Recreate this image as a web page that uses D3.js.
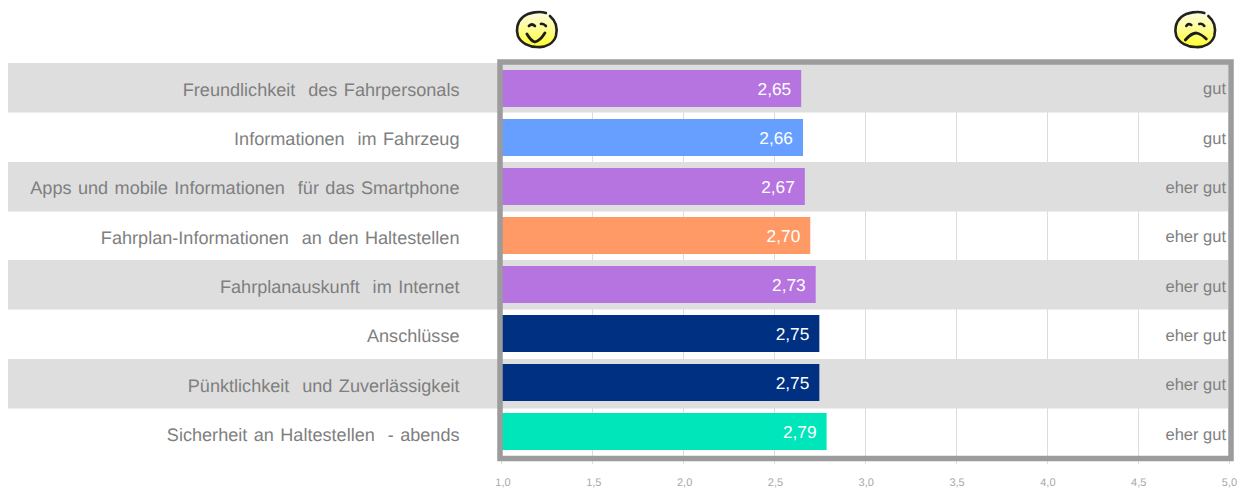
<!DOCTYPE html>
<html><head><meta charset="utf-8">
<script src="https://cdn.jsdelivr.net/npm/d3@7/dist/d3.min.js"></script>
<style>html,body{margin:0;padding:0;background:#fff}svg{display:block}text{font-family:"Liberation Sans",Arial,sans-serif;white-space:pre;text-rendering:geometricPrecision}</style>
</head><body><svg id="c" width="1247" height="489"></svg>
<script>
const categories=["Freundlichkeit  des Fahrpersonals","Informationen  im Fahrzeug","Apps und mobile Informationen  für das Smartphone","Fahrplan-Informationen  an den Haltestellen","Fahrplanauskunft  im Internet","Anschlüsse","Pünktlichkeit  und Zuverlässigkeit","Sicherheit an Haltestellen  - abends"];
const values=[2.65,2.66,2.67,2.70,2.73,2.75,2.75,2.79];
const verdicts=["gut","gut","eher gut","eher gut","eher gut","eher gut","eher gut","eher gut"];
const barColors=["#b574e0","#669fff","#b574e0","#ff9966","#b574e0","#003082","#003082","#00e6bb"];
const ticks=[1,1.5,2,2.5,3,3.5,4,4.5,5];
const fmt=d3.format(".1f"), comma=s=>s.replace(".",",");
const svg=d3.select("#c");
const x=d3.scaleLinear().domain([1,5]).range([501.5,1228]);
const xGrid=d3.scaleLinear().domain([1,5]).range([501.5,1229.5]);
const yRow=d3.scaleBand().domain(d3.range(categories.length)).range([63,457.7]);
const yBar=d3.scaleBand().domain(d3.range(categories.length)).range([64,456]);
const grey="#9c9c9c";
const gx=d=>Math.floor(xGrid(d))+.5;

svg.append("g").selectAll("line").data(ticks).join("line")
 .attr("x1",gx).attr("x2",gx).attr("y1",64).attr("y2",464)
 .attr("stroke","#dcdcdc").attr("stroke-width",1);

svg.append("g").selectAll("rect").data(d3.range(categories.length).filter(i=>i%2===0)).join("rect")
 .attr("x",8).attr("width",1220).attr("y",i=>Math.round(yRow(i))).attr("height",49.5).attr("fill","#dedede");

svg.append("g").selectAll("rect").data(values).join("rect")
 .attr("x",x(1)).attr("width",d=>x(d)-x(1)).attr("y",(d,i)=>yBar(i)+6).attr("height",37)
 .attr("fill",(d,i)=>barColors[i]);

svg.append("rect").attr("x",500).attr("y",62).attr("width",731).attr("height",396.5)
 .attr("fill","none").attr("stroke",grey).attr("stroke-width",5.5);

const txt=svg.append("g").attr("opacity",0.999);
txt.append("g").selectAll("text").data(categories).join("text")
 .attr("x",459.5).attr("y",(d,i)=>yRow(i)+yRow.bandwidth()/2+8).attr("text-anchor","end")
 .attr("font-size",18.1).attr("word-spacing",1.4).attr("fill","#7f7f7f").text(d=>d);

txt.append("g").selectAll("text").data(values).join("text")
 .attr("x",d=>x(d)-10).attr("y",(d,i)=>yBar(i)+yBar.bandwidth()/2+6.5).attr("text-anchor","end")
 .attr("font-size",17.3).attr("fill","#fff").text(d=>d3.format(".2f")(d).replace(".",","));

txt.append("g").selectAll("text").data(verdicts).join("text")
 .attr("x",1226).attr("y",(d,i)=>yRow(i)+yRow.bandwidth()/2+6.5).attr("text-anchor","end")
 .attr("font-size",16.5).attr("fill","#808080").text(d=>d);

txt.append("g").selectAll("text").data(ticks).join("text")
 .attr("x",d=>x(d)+1.5).attr("y",485.5).attr("text-anchor","middle")
 .attr("font-size",11).attr("fill","#a8a8a8").text(d=>comma(fmt(d)));

const defs=svg.append("defs");
const g=defs.append("linearGradient").attr("id","fy").attr("x1",0).attr("y1",0).attr("x2",0).attr("y2",1);
g.append("stop").attr("offset","0").attr("stop-color","#fdfde4");
g.append("stop").attr("offset","0.45").attr("stop-color","#fdfd9a");
g.append("stop").attr("offset","1").attr("stop-color","#ffff2a");
function face(val,happy){
 const s=svg.append("g").attr("transform",`translate(${x(val)},30)`);
 s.append("path").attr("d","M9,-17 C3,-19 -8,-18 -14,-13 C-20,-8 -21,0 -19,6 C-16,13 -8,17 0,17 C9,18 17,13 19,6 C21,-2 19,-9 13,-14")
  .attr("fill","url(#fy)").attr("stroke","#222").attr("stroke-width",2.6).attr("stroke-linecap","round");
 const st=(p,w)=>s.append("path").attr("d",p).attr("fill","none").attr("stroke","#1c1c1c").attr("stroke-width",w).attr("stroke-linecap","round");
 if(happy){
  st("M-8,-4 Q-5,-7 -2,-4",2.6); st("M4,-6 Q6,-7 9,-4",2.6);
  st("M-10,4 Q-6,11 -2,12 Q3,11 8,3",2.8);
 }else{
  st("M-9,-4 Q-7,-7 -4,-5",2.6); st("M4,-6 Q7,-7 9,-4",2.6);
  st("M-10,10 Q-4,3 1,3 Q6,4 11,9",2.8);
 }
}
face(1.195,true);
face(4.82,false);
</script></body></html>
